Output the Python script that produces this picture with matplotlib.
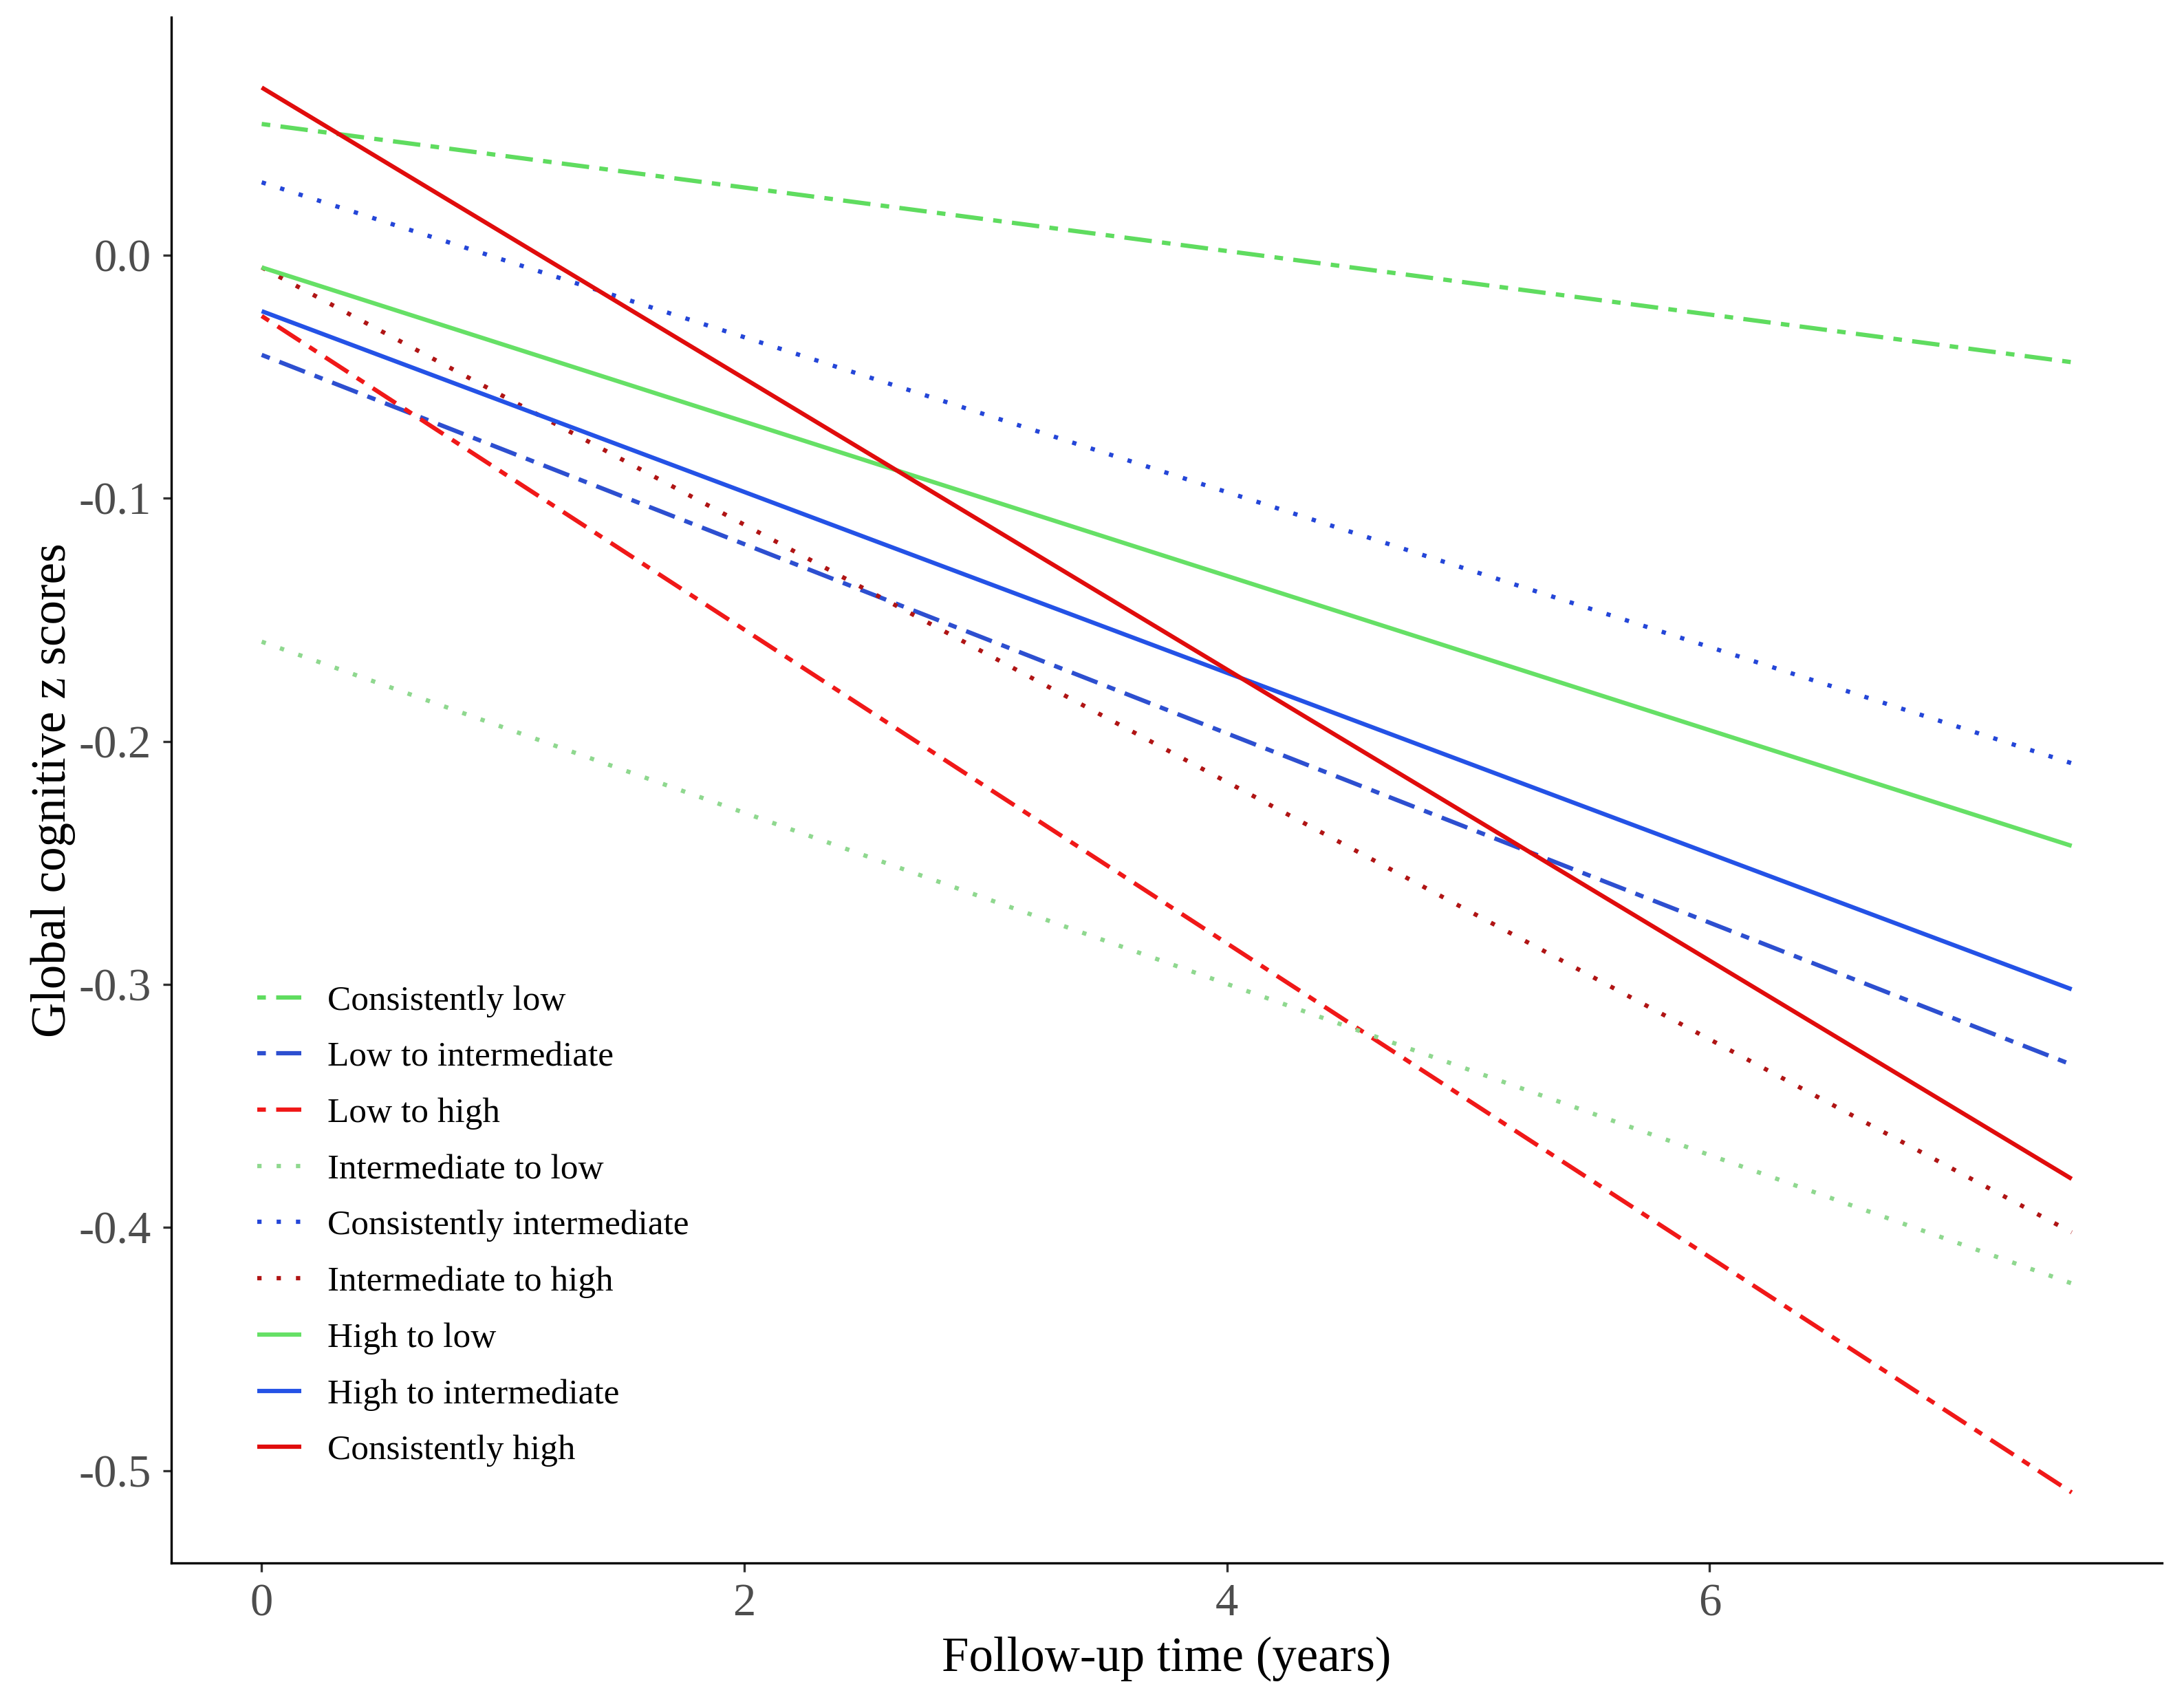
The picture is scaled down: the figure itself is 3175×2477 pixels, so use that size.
#!/usr/bin/env python3
"""Global cognitive z scores over follow-up time, by trajectory group."""
import matplotlib
matplotlib.use("Agg")
import matplotlib.pyplot as plt

# Fitted trajectories: value at baseline (0 y) and at end of follow-up (7.5 y)
years = [0.0, 7.5]
groups = [
    "Consistently low",
    "Low to intermediate",
    "Low to high",
    "Intermediate to low",
    "Consistently intermediate",
    "Intermediate to high",
    "High to low",
    "High to intermediate",
    "Consistently high",
]
start_z = [0.054, -0.041, -0.025, -0.159, 0.030, -0.005, -0.005, -0.023, 0.069]
end_z = [-0.044, -0.333, -0.509, -0.423, -0.209, -0.402, -0.243, -0.302, -0.380]

# style per group (dash units are multiples of the line width)
TWODASH = (0, (2, 2.4, 6.4, 2.4))
DOTTED = (0, (1, 3.5))
colors = ["#5fdc5f", "#2d4fd0", "#f01818", "#8fd88f", "#2446d8", "#b01414",
          "#66e066", "#2452e6", "#e00c0c"]
styles = [TWODASH, TWODASH, TWODASH, DOTTED, DOTTED, DOTTED, "-", "-", "-"]

plt.rcParams["font.family"] = ["Liberation Serif", "DejaVu Serif"]
plt.rcParams["axes.unicode_minus"] = False

fig = plt.figure(figsize=(3175 / 300, 2477 / 300), dpi=300)
ax = fig.add_axes([0.0784, 0.0828, 0.9116, 0.9072])

for name, y0, y1, c, ls in zip(groups, start_z, end_z, colors, styles):
    ax.plot(years, [y0, y1], color=c, linestyle=ls, linewidth=1.5,
            label=name, solid_capstyle="butt")

ax.set_xlim(-0.375, 7.875)
ax.set_ylim(-0.538, 0.098)
ax.set_xticks([0, 2, 4, 6])
ax.set_yticks([0.0, -0.1, -0.2, -0.3, -0.4, -0.5])
ax.set_yticklabels(["0.0", "-0.1", "-0.2", "-0.3", "-0.4", "-0.5"])

for side in ("top", "right"):
    ax.spines[side].set_visible(False)
for side in ("left", "bottom"):
    ax.spines[side].set_linewidth(0.8)
ax.tick_params(axis="both", length=3, width=0.8, color="#333333",
               labelsize=16, labelcolor="#4d4d4d", pad=4)

ax.set_xlabel("Follow-up time (years)", fontsize=17, labelpad=4)
ax.set_ylabel("Global cognitive z scores", fontsize=17, labelpad=1)

ax.legend(loc="lower left", bbox_to_anchor=(0.036, 0.053), frameon=False,
          fontsize=12.3, handlelength=1.25, handletextpad=0.75,
          labelspacing=0.68, borderaxespad=0)

fig.savefig("out.png", dpi=300)
plt.close(fig)
